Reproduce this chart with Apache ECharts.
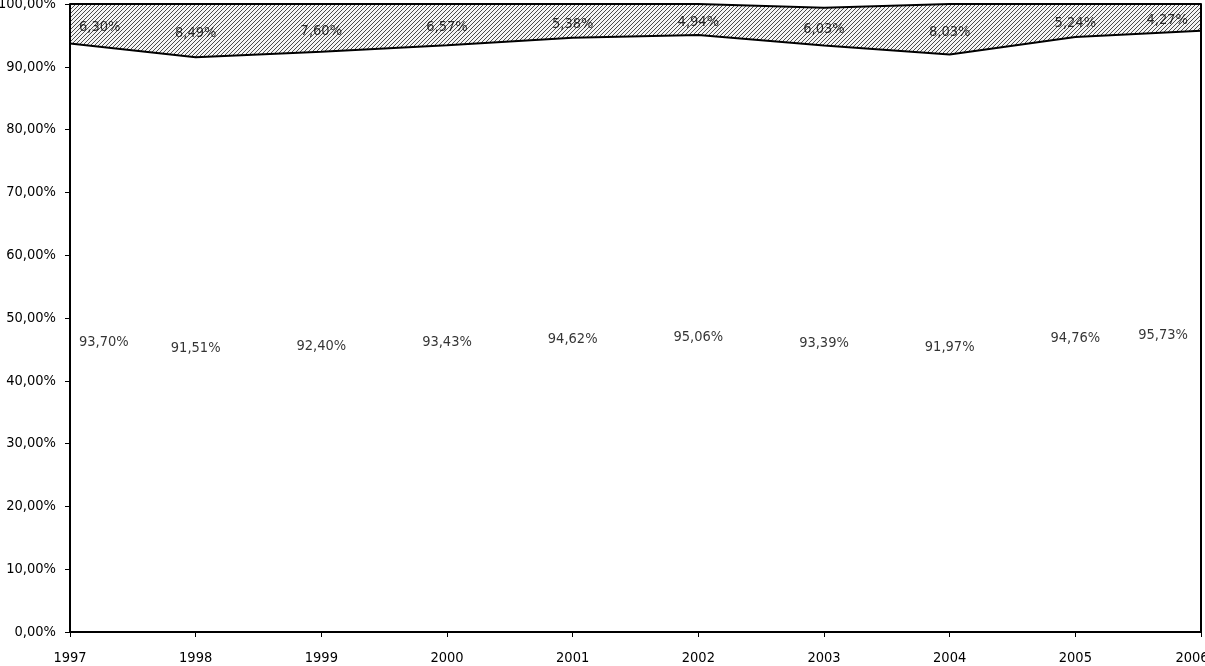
<!DOCTYPE html>
<html>
<head>
<meta charset="utf-8">
<script src="https://cdn.jsdelivr.net/npm/echarts@6/dist/echarts.min.js"></script>
<style>html,body{margin:0;padding:0;background:#fff;overflow:hidden;}#c{width:1205px;height:666px;}</style>
</head>
<body>
<div id="c"></div>
<script>
var years = ['1997','1998','1999','2000','2001','2002','2003','2004','2005','2006'];
var bottomVals = [93.70, 91.51, 92.40, 93.43, 94.62, 95.06, 93.39, 91.97, 94.76, 95.73];
var topVals = [6.30, 8.49, 7.60, 6.57, 5.38, 4.94, 6.03, 8.03, 5.24, 4.27];

function fmt(v){ return v.toFixed(2).replace('.', ',') + '%'; }

// hatch pattern
var pc = document.createElement('canvas');
pc.width = 4; pc.height = 4;
var g = pc.getContext('2d');
g.fillStyle = '#f4f4f4'; g.fillRect(0,0,4,4);
g.strokeStyle = '#4a4a4a'; g.lineWidth = 1;
g.beginPath();
g.moveTo(-1,5); g.lineTo(5,-1);
g.moveTo(-1,1); g.lineTo(1,-1);
g.moveTo(3,5); g.lineTo(5,3);
g.stroke();

var n = years.length;
function labelItems(vals, base, dy){
  return vals.map(function(v,i){
    var b = base ? base[i] : 0;
    var lab = { offset: [0, dy], align: 'center' };
    if (i === 0) { lab.align = 'left'; lab.offset = [9, dy]; }
    if (i === n-1) { lab.align = 'right'; lab.offset = [-13, dy]; }
    return { value: [i, b + v/2], label: lab };
  });
}

var catItems = years.map(function(y, i){
  if (i === n-1) return { value: y, textStyle: { padding: [0, 18, 0, 0] } };
  return y;
});

var font = 'DejaVu Sans Condensed, DejaVu Sans';
var fs = 14.5;
var chart = echarts.init(document.getElementById('c'));
chart.setOption({
  animation: false,
  backgroundColor: '#fff',
  grid: { left: 70, right: 4, top: 4, bottom: 34, containLabel: false, outerBoundsMode: 'none' },
  xAxis: {
    type: 'category', data: catItems, boundaryGap: false, z: 10,
    axisLine: { lineStyle: { color: '#000', width: 2 } },
    axisTick: { show: true, inside: false, length: 5, lineStyle: { color: '#000' } },
    axisLabel: { color: '#000', fontFamily: font, fontSize: fs, margin: 19, interval: 0 },
    splitLine: { show: false }
  },
  yAxis: [{
    type: 'value', min: 0, max: 100, interval: 10, z: 10,
    axisLine: { show: true, lineStyle: { color: '#000', width: 2 } },
    axisTick: { show: true, length: 5, lineStyle: { color: '#000' } },
    axisLabel: { color: '#000', fontFamily: font, fontSize: fs, margin: 14, formatter: function(v){ return fmt(v); } },
    splitLine: { show: false }
  }, {
    type: 'value', min: 0, max: 100, interval: 10, position: 'right', z: 10,
    axisLine: { show: true, lineStyle: { color: '#000', width: 2 } },
    axisTick: { show: false }, axisLabel: { show: false }, splitLine: { show: false }
  }],
  series: [
    {
      type: 'line', stack: 'a', data: bottomVals, symbol: 'none',
      lineStyle: { color: '#000', width: 2 },
      areaStyle: { color: '#fff', opacity: 1 }, z: 2
    },
    {
      type: 'line', stack: 'a', data: topVals, symbol: 'none',
      lineStyle: { color: '#000', width: 2 },
      areaStyle: { color: { image: pc, repeat: 'repeat' }, opacity: 1 }, z: 2
    },
    {
      type: 'scatter', data: labelItems(bottomVals, null, 4), symbolSize: 0,
      silent: true, z: 5,
      label: { show: true, position: 'inside', color: '#000', fontFamily: font, fontSize: fs,
        formatter: function(p){ return fmt(bottomVals[p.dataIndex]); } }
    },
    {
      type: 'scatter', data: labelItems(topVals, bottomVals, 3), symbolSize: 0,
      silent: true, z: 5,
      label: { show: true, position: 'inside', color: '#000', fontFamily: font, fontSize: fs,
        formatter: function(p){ return fmt(topVals[p.dataIndex]); } }
    }
  ]
});
</script>
</body>
</html>
